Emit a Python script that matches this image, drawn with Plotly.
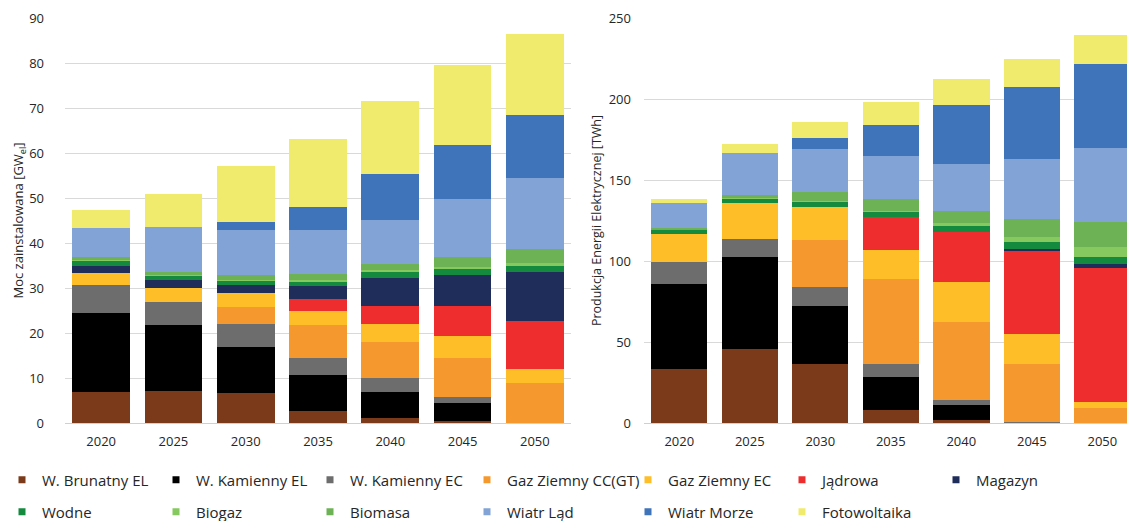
import plotly.graph_objects as go

years = ['2020', '2025', '2030', '2035', '2040', '2045', '2050']

series_names = ['W. Brunatny EL', 'W. Kamienny EL', 'W. Kamienny EC', 'Gaz Ziemny CC(GT)',
                'Gaz Ziemny EC', 'Jądrowa', 'Magazyn', 'Wodne', 'Biogaz', 'Biomasa',
                'Wiatr Ląd', 'Wiatr Morze', 'Fotowoltaika']

# Installed capacity [GW]
brunatny_gw = [7.0, 7.2, 6.7, 2.7, 1.1, 0.4, 0.0]
kamienny_el_gw = [17.4, 14.5, 10.3, 8.0, 5.7, 4.0, 0.0]
kamienny_ec_gw = [6.3, 5.2, 5.0, 3.8, 3.1, 1.3, 0.0]
gaz_cc_gw = [0.0, 0.0, 3.8, 7.3, 8.2, 8.8, 8.8]
gaz_ec_gw = [2.7, 3.1, 3.0, 3.0, 4.0, 4.9, 3.3]
jadrowa_gw = [0.0, 0.0, 0.0, 2.7, 3.9, 6.6, 10.5]
magazyn_gw = [1.6, 1.7, 1.9, 2.9, 6.3, 7.0, 10.9]
wodne_gw = [1.0, 1.1, 0.9, 1.1, 1.3, 1.3, 1.4]
biogaz_gw = [0.2, 0.2, 0.2, 0.2, 0.3, 0.4, 0.7]
biomasa_gw = [0.6, 0.5, 1.0, 1.4, 1.4, 2.1, 3.0]
wiatr_lad_gw = [6.5, 10.0, 10.1, 9.9, 9.9, 13.0, 15.8]
wiatr_morze_gw = [0.0, 0.0, 1.8, 5.1, 10.1, 12.0, 14.0]
pv_gw = [4.0, 7.5, 12.4, 15.1, 16.2, 17.8, 18.1]

# Electricity production [TWh]
brunatny_twh = [33.5, 45.9, 36.4, 8.1, 2.0, 0.3, 0.0]
kamienny_el_twh = [52.3, 56.6, 36.0, 20.6, 9.4, 0.0, 0.0]
kamienny_ec_twh = [13.3, 11.2, 11.5, 7.5, 2.9, 0.5, 0.0]
gaz_cc_twh = [0.0, 0.0, 29.0, 52.5, 47.9, 35.8, 9.1]
gaz_ec_twh = [17.7, 22.0, 20.7, 18.0, 24.8, 18.2, 4.1]
jadrowa_twh = [0.0, 0.0, 0.0, 20.5, 30.9, 51.3, 82.3]
magazyn_twh = [0.0, 0.0, 0.0, 0.0, 0.0, 1.4, 2.5]
wodne_twh = [2.5, 2.6, 3.1, 3.4, 3.9, 4.0, 4.5]
biogaz_twh = [0.2, 0.3, 0.5, 0.5, 1.6, 3.1, 5.9]
biomasa_twh = [0.6, 2.0, 5.7, 7.2, 7.5, 11.3, 15.9]
wiatr_lad_twh = [16.0, 25.8, 26.5, 26.6, 28.7, 37.3, 45.7]
wiatr_morze_twh = [0.0, 0.0, 6.3, 19.0, 36.9, 44.4, 51.9]
pv_twh = [2.0, 5.6, 10.4, 14.3, 15.7, 17.4, 17.6]

colors = ['#7B3A19', '#000000', '#6D6D6D', '#F5992E', '#FDBE27', '#EE2E2E', '#1F2D5A',
          '#138A3E', '#86C95F', '#6DB356', '#81A3D6', '#3F73BA', '#F0EB6D']

gw = [brunatny_gw, kamienny_el_gw, kamienny_ec_gw, gaz_cc_gw, gaz_ec_gw, jadrowa_gw,
      magazyn_gw, wodne_gw, biogaz_gw, biomasa_gw, wiatr_lad_gw, wiatr_morze_gw, pv_gw]
twh = [brunatny_twh, kamienny_el_twh, kamienny_ec_twh, gaz_cc_twh, gaz_ec_twh, jadrowa_twh,
       magazyn_twh, wodne_twh, biogaz_twh, biomasa_twh, wiatr_lad_twh, wiatr_morze_twh, pv_twh]

# legend assignment (row 1: cols 1-3 | col 4 | cols 5-7 ; row 2: cols 1-3 | col 4 | cols 5-6)
legend_of = ['legend', 'legend', 'legend', 'legend2', 'legend3', 'legend3', 'legend3',
             'legend4', 'legend4', 'legend4', 'legend5', 'legend6', 'legend6']

FONT = 'Open Sans'
fig = go.Figure()
for i, name in enumerate(series_names):
    fig.add_trace(go.Bar(x=years, y=gw[i], name=name, marker=dict(color=colors[i], line=dict(width=0)),
                         xaxis='x', yaxis='y', showlegend=False, legendgroup=name))
    fig.add_trace(go.Bar(x=years, y=twh[i], name=name, marker=dict(color=colors[i], line=dict(width=0)),
                         xaxis='x2', yaxis='y2', showlegend=False, legendgroup=name))
# legend keys (small square markers, as in the original legend)
for i, name in enumerate(series_names):
    fig.add_trace(go.Scatter(x=[None], y=[None], mode='markers', name=name,
                             marker=dict(symbol='square', size=7, color=colors[i], line=dict(width=0)),
                             xaxis='x', yaxis='y', legend=legend_of[i], legendgroup=name,
                             showlegend=True, hoverinfo='skip'))

W, H = 1127, 521
top, bottom = 18, 423
def py(ypx):
    return (bottom - ypx) / (bottom - top)

axis_common = dict(showgrid=False, showline=True, linecolor='#D0D0D0', linewidth=1,
                   ticks='', tickfont=dict(family=FONT, size=13, color='#262626'),
                   ticklabelstandoff=6, fixedrange=True)
yaxis_common = dict(showgrid=True, gridcolor='#D9D9D9', gridwidth=1, zeroline=False,
                    ticks='', tickfont=dict(family=FONT, size=13, color='#262626'))

legend_common = dict(orientation='h', font=dict(family=FONT, size=15, color='#262626'),
                     bgcolor='rgba(0,0,0,0)', itemwidth=30, itemsizing='trace',
                     xanchor='left', yanchor='middle', tracegroupgap=0)
EW = 109
row1, row2 = py(480), py(512)
fig.update_layout(
    width=W, height=H,
    margin=dict(l=0, r=0, t=top, b=H - bottom, autoexpand=False),
    paper_bgcolor='white', plot_bgcolor='white',
    barmode='stack', bargap=0.2,
    font=dict(family=FONT, size=13, color='#262626'),
    xaxis=dict(domain=[65 / W, 571 / W], range=[-0.5, 6.5], anchor='y', **axis_common),
    yaxis=dict(domain=[0, 1], range=[0, 90], dtick=10, anchor='x', ticklabelstandoff=20,
               title=dict(text='Moc zainstalowana [GW<sub>el</sub>]', standoff=0,
                          font=dict(family=FONT, size=13, color='#262626')),
               **yaxis_common),
    xaxis2=dict(domain=[644 / W, 1], range=[-0.5, 6.35], anchor='y2', **axis_common),
    yaxis2=dict(domain=[0, 1], range=[0, 250], dtick=50, anchor='x2', ticklabelstandoff=12,
                title=dict(text='Produkcja Energii Elektrycznej [TWh]', standoff=4,
                           font=dict(family=FONT, size=12.5, color='#262626')),
                **yaxis_common),
    legend=dict(x=2 / W, y=row1, entrywidth=EW, **legend_common),
    legend2=dict(x=467 / W, y=row1, **legend_common),
    legend3=dict(x=628 / W, y=row1, entrywidth=EW, **legend_common),
    legend4=dict(x=2 / W, y=row2, entrywidth=EW, **legend_common),
    legend5=dict(x=467 / W, y=row2, **legend_common),
    legend6=dict(x=628 / W, y=row2, entrywidth=EW, **legend_common),
    showlegend=True,
)

fig.write_html('out.html', config={'displayModeBar': False},
               post_script="document.body.style.margin='0px';document.body.style.overflow='hidden';")
